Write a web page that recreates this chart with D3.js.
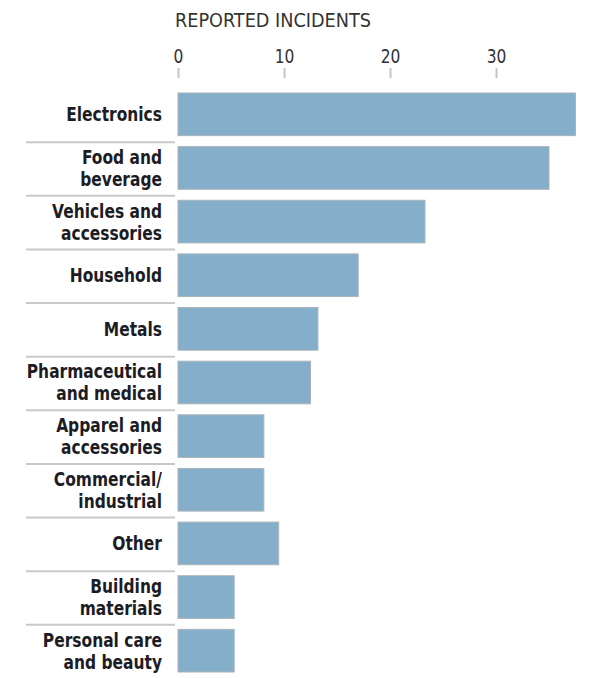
<!DOCTYPE html>
<html>
<head>
<meta charset="utf-8">
<script src="https://cdn.jsdelivr.net/npm/d3@7"></script>
<style>
  body { margin: 0; background: #fff; }
  svg text { font-family: "DejaVu Sans Condensed", "DejaVu Sans", sans-serif; font-stretch: condensed; }
</style>
</head>
<body>
<div id="chart"></div>
<script>
// data
const categories = [
    ["Electronics"],
    ["Food and", "beverage"],
    ["Vehicles and", "accessories"],
    ["Household"],
    ["Metals"],
    ["Pharmaceutical", "and medical"],
    ["Apparel and", "accessories"],
    ["Commercial/", "industrial"],
    ["Other"],
    ["Building", "materials"],
    ["Personal care", "and beauty"]
];
const incidents = [37.5, 35, 23.3, 17, 13.2, 12.5, 8.1, 8.1, 9.5, 5.3, 5.3];
const tickValues = [0, 10, 20, 30];
const axisTitle = "REPORTED INCIDENTS";

const width = 609, height = 678;
const squeeze = 0.86; // narrow the type a bit more than DejaVu Condensed

let rows = categories.map((c, i) => ({key: c.join(" "), lines: c, value: incidents[i]}));

let svg = d3.select("#chart").append("svg")
    .attr("width", width)
    .attr("height", height);

// scales
let x = d3.scaleLinear()
    .domain([0, 30])
    .range([178, 496]);

let y = d3.scaleBand()
    .domain(rows.map(d => d.key))
    .range([88, 678]);

// axis title
svg.append("text")
    .attr("transform", `translate(175,27) scale(${squeeze},1)`)
    .attr("font-size", 20)
    .attr("fill", "#333")
    .text(axisTitle)
    .attr("textLength", 196 / squeeze)
    .attr("lengthAdjust", "spacingAndGlyphs");

// ticks on top
let axis = svg.append("g")
    .attr("transform", "translate(0,68)")
    .call(d3.axisTop(x).tickValues(tickValues).tickSize(-10).tickPadding(0).tickFormat(d3.format("d")));

axis.select(".domain").remove();
axis.selectAll(".tick line")
    .attr("stroke", "#c4c4c4")
    .attr("stroke-width", 2);
axis.selectAll(".tick text")
    .attr("y", -5)
    .attr("transform", `scale(${squeeze},1)`)
    .attr("font-size", 20)
    .attr("fill", "#333")
    .style("font-family", "'DejaVu Sans Condensed', sans-serif");

// separators between rows
svg.selectAll(".sep")
    .data(rows.slice(1))
    .enter()
    .append("line")
    .attr("class", "sep")
    .attr("x1", 26)
    .attr("x2", 175)
    .attr("y1", d => y(d.key) + 0.5)
    .attr("y2", d => y(d.key) + 0.5)
    .attr("stroke", "#c8c8c8")
    .attr("stroke-width", 2);

// bars
svg.selectAll(".bar")
    .data(rows)
    .enter()
    .append("rect")
    .attr("class", "bar")
    .attr("x", x(0))
    .attr("y", d => y(d.key) + 5)
    .attr("width", d => x(d.value) - x(0))
    .attr("height", y.bandwidth() - 11)
    .attr("fill", "#85aeca")
    .attr("stroke", "#a9b3ba")
    .attr("stroke-width", 1);

// labels
let labels = svg.selectAll(".label")
    .data(rows)
    .enter()
    .append("text")
    .attr("class", "label")
    .attr("transform", `translate(162,0) scale(${squeeze},1)`)
    .attr("text-anchor", "end")
    .attr("font-size", 20)
    .attr("font-weight", "bold")
    .attr("fill", "#1c1c24");

labels.each(function(d) {
    let mid = y(d.key) + 5 + (y.bandwidth() - 11) / 2;
    let n = d.lines.length;
    d3.select(this).selectAll("tspan")
        .data(d.lines)
        .enter()
        .append("tspan")
        .attr("x", 0)
        .attr("y", (l, i) => mid + 7 + (i - (n - 1) / 2) * 22)
        .text(l => l);
});
</script>
</body>
</html>
